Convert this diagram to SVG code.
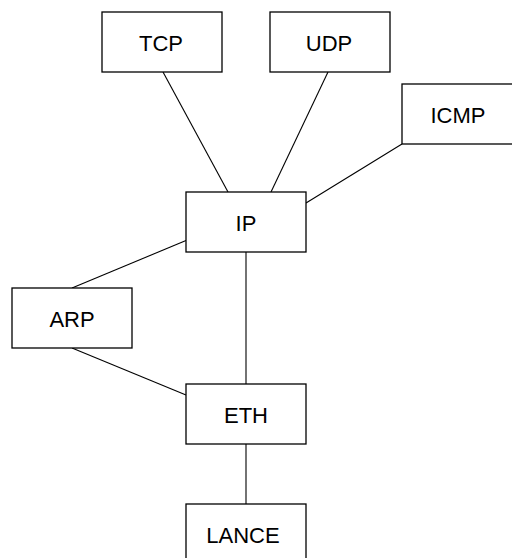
<svg xmlns="http://www.w3.org/2000/svg" width="512" height="558" viewBox="0 0 512 558">
<style>
.box{fill:#fff;stroke:#000;stroke-width:1.3}
.lbl{font-family:"Liberation Sans",Arial,sans-serif;font-size:22px;fill:#000;text-anchor:middle}
.edge{stroke:#000;stroke-width:1.1;fill:none}
</style>
<rect width="512" height="558" fill="#fff"/>
<g id="connectors">
<line class="edge" x1="163" y1="72" x2="228" y2="192"/>
<line class="edge" x1="328" y1="72" x2="271" y2="192"/>
<line class="edge" x1="402" y1="144" x2="306" y2="203"/>
<line class="edge" x1="186" y1="240.5" x2="72" y2="288"/>
<line class="edge" x1="72" y1="348" x2="186" y2="395"/>
<line class="edge" x1="246" y1="252" x2="246" y2="384"/>
<line class="edge" x1="246" y1="444" x2="246" y2="504"/>
</g>
<g id="TCP"><rect class="box" x="102" y="12" width="120" height="60"/><text class="lbl" x="161" y="51">TCP</text></g>
<g id="UDP"><rect class="box" x="270" y="12" width="120" height="60"/><text class="lbl" x="329" y="51">UDP</text></g>
<g id="ICMP"><rect class="box" x="402" y="84" width="120" height="60"/><text class="lbl" x="458" y="123">ICMP</text></g>
<g id="IP"><rect class="box" x="186" y="192" width="120" height="60"/><text class="lbl" x="246" y="231">IP</text></g>
<g id="ARP"><rect class="box" x="12" y="288" width="120" height="60"/><text class="lbl" x="72" y="327">ARP</text></g>
<g id="ETH"><rect class="box" x="186" y="384" width="120" height="60"/><text class="lbl" x="246" y="423">ETH</text></g>
<g id="LANCE"><rect class="box" x="186" y="504" width="120" height="60"/><text class="lbl" x="243" y="543">LANCE</text></g>
</svg>
